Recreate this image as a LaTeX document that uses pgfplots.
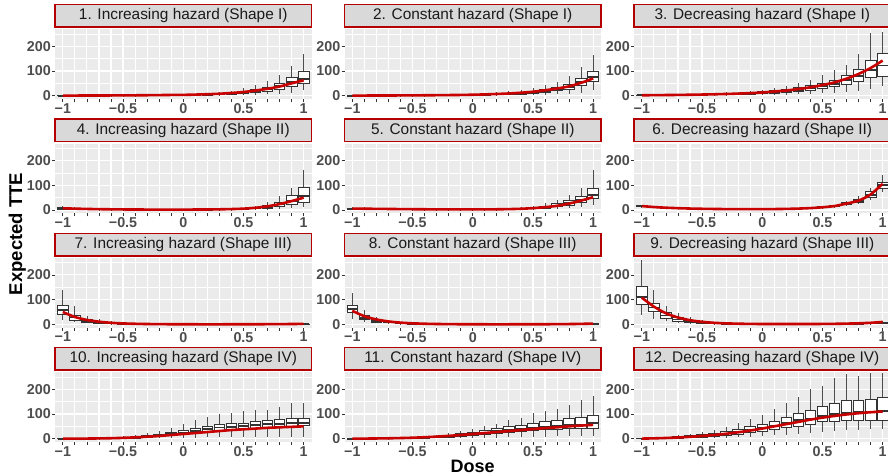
\documentclass[border=0pt]{standalone}
\usepackage{fontspec}
\setmainfont{Liberation Sans}
\usepackage{pgfplots}
\usepackage{pgfplotstable}
\pgfplotsset{compat=1.18}
\usepgfplotslibrary{statistics}
\definecolor{panelbg}{HTML}{EBEBEB}
\definecolor{stripbg}{HTML}{D9D9D9}
\definecolor{stripred}{HTML}{B40000}
\definecolor{linered}{HTML}{C80000}
\definecolor{tickgray}{HTML}{333333}
\definecolor{whiskgray}{HTML}{4D4D4D}
\definecolor{labgray}{HTML}{4D4D4D}
\definecolor{striptext}{HTML}{1A1A1A}

% columns: x lw lq med uq uw m(true curve)
\pgfplotstableread{
x lw lq med uq uw m
-1.0 0.05 0.2 0.35 0.5 1 0.5
-0.9 0.05 0.25 0.4 0.6 1.2 0.6
-0.8 0.05 0.3 0.5 0.7 1.4 0.7
-0.7 0.1 0.35 0.6 0.85 1.7 0.85
-0.6 0.1 0.45 0.75 1.05 2.1 1.05
-0.5 0.1 0.55 0.9 1.3 2.6 1.3
-0.4 0.15 0.7 1.1 1.6 3.2 1.6
-0.3 0.2 0.85 1.4 2 4 2
-0.2 0.25 1.1 1.8 2.5 5 2.5
-0.1 0.3 1.4 2.3 3.1 6 3.1
0.0 0.3 1.5 2.5 3.4 5.5 3.4
0.1 0.4 2 3.3 4.5 7.5 4.5
0.2 0.6 3 4.5 6 10 6
0.3 0.8 4 6 8 14 8
0.4 1 6 9 12 20 11
0.5 2 9 13 18 30 15
0.6 3 13 19 26 42 21
0.7 5 18 27 35 60 28
0.8 8 26 40 51 84 37
0.9 10 36 54 74 120 50
1.0 22 48 68 100 170 62
}\tA
\pgfplotstableread{
x lw lq med uq uw m
-1.0 0.05 0.2 0.35 0.5 1 0.5
-0.9 0.05 0.25 0.45 0.6 1.2 0.6
-0.8 0.05 0.3 0.55 0.75 1.4 0.75
-0.7 0.1 0.4 0.65 0.9 1.7 0.9
-0.6 0.1 0.5 0.8 1.1 2.1 1.1
-0.5 0.1 0.6 1 1.35 2.6 1.4
-0.4 0.15 0.75 1.25 1.7 3.2 1.7
-0.3 0.2 0.95 1.5 2.1 4 2.1
-0.2 0.2 1.2 1.9 2.6 4.5 2.6
-0.1 0.3 1.5 2.3 3.2 5.5 3.1
0.0 0.4 2 3 4.2 7 4
0.1 0.5 2.6 4 5.5 9.5 5.2
0.2 0.7 3.5 5.5 7.5 13 7
0.3 1 5 7.5 10 17 9
0.4 1.5 7 10 13 23 12
0.5 2 10 14 18 32 16
0.6 3 13 19 25 45 22
0.7 5 20 27 35 57 29
0.8 8 27 35 45 80 38
0.9 10 43 55 70 117 52
1.0 23 57 74 100 164 70
}\tB
\pgfplotstableread{
x lw lq med uq uw m
-1.0 0.25 0.9 1.4 2 3.2 1.8
-0.9 0.3 1.1 1.7 2.4 3.9 2.2
-0.8 0.4 1.4 2.1 2.9 4.7 2.7
-0.7 0.5 1.7 2.6 3.5 5.7 3.2
-0.6 0.6 2.1 3.2 4.3 7 3.9
-0.5 0.8 2.6 3.9 5.3 8.5 4.7
-0.4 1 3.2 4.8 6.5 10.5 5.7
-0.3 1.2 4 6 8 13 7
-0.2 1.6 5 7.5 10 16 8.5
-0.1 2 6.3 9.5 13 20 10.5
0.0 2.5 8 12 16 25 13
0.1 3 10 15 20 31 17
0.2 4 13 19 25 40 21
0.3 5 17 24 32 50 27
0.4 7 23 31 40 65 34
0.5 9 29 39 50 82 43
0.6 11 36 48 63 105 54
0.7 15 47 62 81 125 69
0.8 20 59 80 108 170 88
0.9 28 74 104 141 252 112
1.0 40 78 122 172 258 142
}\tC
\pgfplotstableread{
x lw lq med uq uw m
-1.0 1 4 6 9 15 7
-0.9 0.8 3 4.5 7 11 5.5
-0.8 0.6 2.3 3.5 5 8.5 4.3
-0.7 0.5 1.8 2.8 4 6.5 3.4
-0.6 0.4 1.5 2.2 3.2 5.2 2.8
-0.5 0.3 1.2 1.8 2.6 4.3 2.3
-0.4 0.3 1 1.6 2.2 3.6 2
-0.3 0.2 0.9 1.4 2 3.2 1.8
-0.2 0.2 0.8 1.3 1.9 3 1.7
-0.1 0.2 0.8 1.3 1.9 3 1.7
0.0 0.2 0.8 1.3 1.9 3 1.7
0.1 0.2 0.9 1.4 2 3.3 1.9
0.2 0.3 1 1.6 2.3 3.8 2.2
0.3 0.3 1.2 2 2.8 4.8 2.8
0.4 0.4 1.7 2.7 3.8 6.5 3.8
0.5 0.6 2.5 4 5.7 10 5.5
0.6 1 4.5 7 10 18 9
0.7 2 8 12 18 32 15
0.8 4 14 22 32 55 24
0.9 7 24 38 57 90 36
1.0 12 30 55 92 160 50
}\tD
\pgfplotstableread{
x lw lq med uq uw m
-1.0 1.2 3.6 5.4 7.4 12 5.7
-0.9 1.1 3.3 4.9 6.7 11 5.2
-0.8 1 3 4.4 6 10 4.7
-0.7 0.9 2.6 3.9 5.4 8.8 4.2
-0.6 0.8 2.3 3.5 4.8 7.8 3.7
-0.5 0.7 2 3.1 4.2 6.8 3.3
-0.4 0.6 1.8 2.7 3.7 6 2.9
-0.3 0.5 1.6 2.4 3.3 5.3 2.6
-0.2 0.5 1.5 2.2 3 4.8 2.4
-0.1 0.5 1.4 2.1 2.9 4.6 2.3
0.0 0.5 1.4 2.1 2.9 4.6 2.3
0.1 0.5 1.5 2.3 3.1 5 2.5
0.2 0.7 1.8 2.7 3.6 5.8 2.9
0.3 1 2.3 3.5 4.6 7.5 3.6
0.4 1.3 3.3 5 6.7 11 5
0.5 2 5 7.5 10 17 7.5
0.6 3 8 12 16 27 11.5
0.7 5 13 18 25 40 17
0.8 8 20 27 38 60 26
0.9 12 30 42 55 90 38
1.0 20 47 61 88 162 52
}\tE
\pgfplotstableread{
x lw lq med uq uw m
-1.0 10.4 13.6 16 17.9 21.6 16
-0.9 7.8 10.2 12 13.4 16.2 12
-0.8 6 7.9 9.3 10.4 12.6 9.3
-0.7 4.7 6.2 7.3 8.2 9.9 7.3
-0.6 3.8 5 5.9 6.6 8 5.9
-0.5 3.2 4.2 4.9 5.5 6.6 4.9
-0.4 2.7 3.6 4.2 4.7 5.7 4.2
-0.3 2.4 3.1 3.7 4.1 5 3.7
-0.2 2.2 2.9 3.4 3.8 4.6 3.4
-0.1 2.1 2.8 3.3 3.7 4.5 3.3
0.0 2.2 2.9 3.4 3.8 4.6 3.4
0.1 2.5 3.2 3.8 4.3 5.1 3.8
0.2 2.9 3.8 4.5 5 6.1 4.5
0.3 3.7 4.8 5.7 6.4 7.7 5.7
0.4 5 6.5 7.7 8.6 10.4 7.7
0.5 7.2 9.4 11 12.3 14.9 11
0.6 10.4 13.6 16 17.9 21.6 16
0.7 17 22 27 32 38 26
0.8 25 32 38 43 55 38
0.9 42 51 62 74 90 63
1.0 74 88 100 113 141 106
}\tF
\pgfplotstableread{
x lw lq med uq uw m
-1.0 17 42 58 78 141 50
-0.9 8 17 28 38 74 30
-0.8 4 9 14 20 35 18
-0.7 2 5 8 12 20 11
-0.6 1 3 4.8 7 12 6.5
-0.5 0.6 1.8 2.9 4.2 7.5 4
-0.4 0.4 1.1 1.8 2.6 4.6 2.5
-0.3 0.2 0.7 1.1 1.6 2.8 1.6
-0.2 0.15 0.45 0.7 1 1.8 1.05
-0.1 0.1 0.3 0.45 0.65 1.2 0.75
0.0 0.1 0.2 0.32 0.45 0.8 0.55
0.1 0.05 0.17 0.27 0.38 0.7 0.45
0.2 0.05 0.15 0.25 0.35 0.65 0.42
0.3 0.05 0.15 0.25 0.35 0.65 0.43
0.4 0.05 0.16 0.27 0.38 0.7 0.47
0.5 0.06 0.2 0.32 0.45 0.8 0.55
0.6 0.07 0.24 0.4 0.55 1 0.7
0.7 0.1 0.3 0.5 0.7 1.3 0.9
0.8 0.12 0.4 0.65 0.95 1.7 1.2
0.9 0.16 0.55 0.9 1.3 2.3 1.6
1.0 0.22 0.75 1.25 1.8 3.2 2.2
}\tG
\pgfplotstableread{
x lw lq med uq uw m
-1.0 20 47 61 77 125 55
-0.9 8 20 27 35 60 33
-0.8 4 10 15 20 30 20
-0.7 2 6 9 12 18 12
-0.6 1.2 3.5 5.3 7 11 7.2
-0.5 0.7 2.1 3.2 4.3 6.8 4.4
-0.4 0.4 1.3 2 2.7 4.2 2.7
-0.3 0.3 0.8 1.2 1.7 2.6 1.7
-0.2 0.2 0.5 0.8 1.1 1.7 1.1
-0.1 0.1 0.35 0.55 0.75 1.2 0.75
0.0 0.1 0.25 0.4 0.55 0.85 0.55
0.1 0.1 0.2 0.32 0.45 0.7 0.45
0.2 0.1 0.2 0.3 0.42 0.65 0.42
0.3 0.1 0.2 0.3 0.42 0.65 0.44
0.4 0.1 0.22 0.33 0.46 0.72 0.5
0.5 0.1 0.25 0.38 0.53 0.85 0.6
0.6 0.1 0.3 0.46 0.65 1 0.75
0.7 0.15 0.4 0.6 0.85 1.35 1
0.8 0.2 0.55 0.85 1.2 1.9 1.45
0.9 0.3 0.8 1.25 1.75 2.8 2.2
1.0 0.45 1.2 1.9 2.7 4.3 3.4
}\tH
\pgfplotstableread{
x lw lq med uq uw m
-1.0 37 82 112 152 262 108
-0.9 20 51 68 85 141 72
-0.8 12 24 36 47 74 45
-0.7 6 14 20 28 45 28
-0.6 3 8 12 17 28 17
-0.5 2 5 7 10 17 10.5
-0.4 1.2 3 4.5 6.3 10.5 6.5
-0.3 0.8 2 3 4 6.8 4.2
-0.2 0.5 1.4 2 2.7 4.5 2.9
-0.1 0.4 1 1.5 2 3.3 2.1
0.0 0.3 0.8 1.2 1.6 2.6 1.7
0.1 0.3 0.7 1.05 1.4 2.3 1.5
0.2 0.3 0.7 1 1.35 2.2 1.45
0.3 0.3 0.7 1.05 1.4 2.3 1.5
0.4 0.3 0.8 1.15 1.55 2.6 1.65
0.5 0.35 0.9 1.35 1.8 3 1.9
0.6 0.45 1.15 1.7 2.3 3.8 2.4
0.7 0.6 1.5 2.25 3 5 3.2
0.8 0.8 2.1 3.1 4.2 7 4.5
0.9 1.2 3 4.5 6 10 6.5
1.0 1.8 4.6 6.8 9.2 15 10
}\tI
\pgfplotstableread{
x lw lq med uq uw m
-1.0 0 0 0.1 0.2 0.5 0
-0.9 0 0.1 0.2 0.4 1 0.3
-0.8 0 0.2 0.4 0.8 1.8 0.6
-0.7 0.1 0.5 0.9 1.6 3.5 1.2
-0.6 0.1 1 1.7 2.8 6 2
-0.5 0.2 1.8 3 4.5 9 3.5
-0.4 0.5 3 5 7 13 5.5
-0.3 1 5 8 12 22 8
-0.2 1.5 8 13 18 32 11
-0.1 2 13 19 27 45 15
0.0 3 17 25 34 60 19
0.1 4 23 32 43 75 23
0.2 5 28 38 50 88 27
0.3 6 33 45 58 100 31
0.4 7 36 47 60 102 35
0.5 8 40 50 63 110 38
0.6 8 42 55 70 117 41
0.7 8 46 58 73 118 44
0.8 8 48 60 76 129 46
0.9 8 51 62 80 143 48
1.0 8 52 64 82 145 50
}\tJ
\pgfplotstableread{
x lw lq med uq uw m
-1.0 0 0 0.1 0.2 0.5 0.2
-0.9 0 0.2 0.3 0.6 1.2 0.5
-0.8 0 0.4 0.7 1.2 2.5 1
-0.7 0.1 0.8 1.3 2 4 1.7
-0.6 0.2 1.2 2 3 6 2.7
-0.5 0.3 2 3 4.5 8.5 4
-0.4 0.5 3 5 7 12 6
-0.3 1 5 7 10 17 8.5
-0.2 1 7 11 15 25 11.5
-0.1 2 10 15 21 33 15
0.0 2 13 20 27 40 19
0.1 3 17 24 33 50 23
0.2 4 21 30 40 60 27
0.3 5 26 35 48 75 31
0.4 6 30 40 55 85 35
0.5 7 33 45 62 105 39
0.6 8 36 48 68 113 43
0.7 9 38 52 73 120 46
0.8 10 40 55 80 138 50
0.9 10 40 57 88 157 53
1.0 11 40 62 93 172 56
}\tK
\pgfplotstableread{
x lw lq med uq uw m
-1.0 0.1 0.5 1 1.5 3 0.5
-0.9 0.2 1 2 3 5 1.5
-0.8 0.5 2 4 5 8 3
-0.7 1 3 6 8 13 5
-0.6 1 5 8 12 19 7.5
-0.5 2 7 12 17 28 11
-0.4 3 10 16 23 37 15
-0.3 4 14 21 30 48 20
-0.2 6 18 27 38 62 26
-0.1 8 24 34 48 78 33
0.0 10 30 42 58 95 41
0.1 13 38 52 71 122 50
0.2 16 45 62 86 143 59
0.3 20 51 75 103 170 68
0.4 24 59 82 116 200 77
0.5 28 69 92 129 213 85
0.6 32 71 100 143 244 92
0.7 36 75 105 153 262 98
0.8 36 75 108 153 255 103
0.9 38 75 110 159 264 107
1.0 38 75 113 167 264 110
}\tL

\pgfplotsset{
  facet/.style={
    scale only axis, width=256.5pt, height=69.8pt, anchor=south west,
    xmin=-1.065, xmax=1.065, ymin=-14, ymax=268,
    axis background/.style={fill=panelbg},
    separate axis lines, axis x line*=bottom, axis y line*=left,
    axis line style={draw=none},
    xtick={-1,-0.9,-0.8,-0.7,-0.6,-0.5,-0.4,-0.3,-0.2,-0.1,0,0.1,0.2,0.3,0.4,0.5,0.6,0.7,0.8,0.9,1},
    xticklabels={−1,,,,,−0.5,,,,,0,,,,,0.5,,,,,1},
    ytick={0,100,200}, yticklabels={0,100,200},
    minor ytick={50,150,250},
    xmajorgrids, ymajorgrids, yminorgrids,
    major grid style={white, line width=1.1pt},
    minor grid style={white, line width=0.55pt},
    tick align=outside,
    major tick length=3pt, minor tick length=0pt,
    tick style={tickgray, line width=0.8pt},
    xticklabel style={font=\bfseries\fontsize{14.3}{15}\selectfont, text=labgray, inner sep=1pt},
    yticklabel style={font=\bfseries\fontsize{14.3}{15}\selectfont, text=labgray, inner sep=1pt},
    boxplot/draw direction=y,
    boxplot/box extend=0.088,
    boxplot/whisker extend=0,
    boxplot/every box/.style={draw=tickgray, fill=white, line width=0.85pt},
    boxplot/every whisker/.style={draw=whiskgray, line width=0.8pt},
    boxplot/every median/.style={draw=tickgray, line width=1.8pt},
  },
  bx/.style={draw=tickgray, line width=0.8pt, mark=none},
}

% one prepared box from row #2 of table #1
\newcommand{\boxrow}[2]{%
\pgfplotstablegetelem{#2}{lw}\of#1\let\vlw\pgfplotsretval
\pgfplotstablegetelem{#2}{lq}\of#1\let\vlq\pgfplotsretval
\pgfplotstablegetelem{#2}{med}\of#1\let\vmed\pgfplotsretval
\pgfplotstablegetelem{#2}{uq}\of#1\let\vuq\pgfplotsretval
\pgfplotstablegetelem{#2}{uw}\of#1\let\vuw\pgfplotsretval
\pgfplotstablegetelem{#2}{x}\of#1\let\vpos\pgfplotsretval
\edef\doplot{\noexpand\addplot[bx, boxplot prepared={draw position=\vpos, lower whisker=\vlw, lower quartile=\vlq, median=\vmed, upper quartile=\vuq, upper whisker=\vuw}] coordinates {};}%
\doplot
}

\newcommand{\panel}[4]{%
\begin{axis}[facet, at={(#2pt,#3pt)}]
\pgfplotsinvokeforeach{0,...,20}{\boxrow{#1}{##1}}
\addplot[linered, line width=2.6pt, smooth, mark=none] table[x=x,y=m] {#1};
\end{axis}
\draw[stripred, line width=1.5pt, fill=stripbg] (#2pt,#3pt+72pt) rectangle ++(256.5pt,22.6pt);
\node[text=striptext, font=\fontsize{15.4}{16}\selectfont, inner sep=0pt] at (#2pt+128.25pt,#3pt+83.3pt) {#4};
}

\begin{document}
\begin{tikzpicture}[x=1pt,y=1pt]
\path[use as bounding box, clip] (0,0) rectangle (888,475);
\panel{\tA}{55}{375.83}{1. Increasing hazard (Shape I)}
\panel{\tB}{344.5}{375.83}{2. Constant hazard (Shape I)}
\panel{\tC}{634}{375.83}{3. Decreasing hazard (Shape I)}
\panel{\tD}{55}{261.53}{4. Increasing hazard (Shape II)}
\panel{\tE}{344.5}{261.53}{5. Constant hazard (Shape II)}
\panel{\tF}{634}{261.53}{6. Decreasing hazard (Shape II)}
\panel{\tG}{55}{147.13}{7. Increasing hazard (Shape III)}
\panel{\tH}{344.5}{147.13}{8. Constant hazard (Shape III)}
\panel{\tI}{634}{147.13}{9. Decreasing hazard (Shape III)}
\panel{\tJ}{55}{32.83}{10. Increasing hazard (Shape IV)}
\panel{\tK}{344.5}{32.83}{11. Constant hazard (Shape IV)}
\panel{\tL}{634}{32.83}{12. Decreasing hazard (Shape IV)}
\node[rotate=90, anchor=base, font=\bfseries\fontsize{18.5}{19}\selectfont] at (22pt,241pt) {Expected TTE};
\node[anchor=base, font=\bfseries\fontsize{18}{19}\selectfont] at (472.7pt,3pt) {Dose};
\end{tikzpicture}
\end{document}
